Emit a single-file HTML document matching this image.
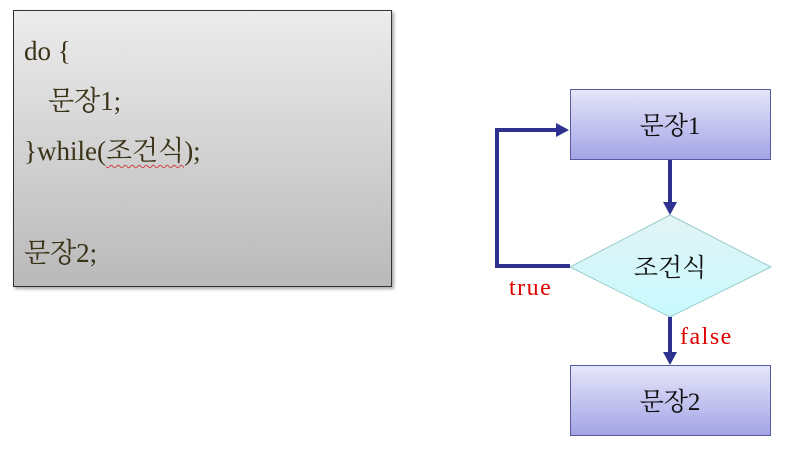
<!DOCTYPE html>
<html><head><meta charset="utf-8"><style>
body{margin:0;width:798px;height:459px;background:#fff;overflow:hidden;position:relative}
.code{position:absolute;left:13px;top:10px;width:377px;height:275px;border:1px solid #333;background:linear-gradient(#ececec,#b9b9b9);box-shadow:2px 2px 3px rgba(0,0,0,.35);font-family:"Liberation Serif","Noto Serif CJK SC",serif;font-size:27px;color:#3a3318}
.code div{position:absolute;white-space:nowrap;line-height:32px}
.sq{text-decoration:underline wavy #d04040;text-decoration-thickness:1px;text-underline-offset:4px}
</style></head><body>
<div class="code">
 <div style="left:10px;top:24px">do {</div>
 <div style="left:34px;top:74px">문장1;</div>
 <div style="left:10px;top:124px">}while(<span class="sq">조건식</span>);</div>
 <div style="left:10px;top:226px">문장2;</div>
</div>
<svg width="798" height="459" style="position:absolute;left:0;top:0">
<defs>
<linearGradient id="bx" x1="0" y1="0" x2="0" y2="1"><stop offset="0" stop-color="#e6e6fa"/><stop offset="1" stop-color="#a3a3e6"/></linearGradient>
<linearGradient id="dm" x1="0" y1="0" x2="0" y2="1"><stop offset="0" stop-color="#e2f3f5"/><stop offset="1" stop-color="#c8fafe"/></linearGradient>
</defs>
<g font-family="Liberation Serif,Noto Serif CJK SC,serif" font-size="25" text-anchor="middle" fill="#111">
<g><rect x="570.5" y="89.5" width="200" height="70" fill="url(#bx)" stroke="#5a5aa0"/><text x="670" y="134">문장1</text></g>
<g><polygon points="670,215 771,267 670,317 570,267" fill="url(#dm)" stroke="#9cc"/><text x="670" y="276">조건식</text></g>
<g><rect x="570.5" y="365.5" width="200" height="70" fill="url(#bx)" stroke="#5a5aa0"/><text x="670" y="410">문장2</text></g>
</g>
<g stroke="#2e3190" stroke-width="4" fill="none">
<path d="M670 160 V204"/>
<path d="M670 317 V354"/>
<path d="M570 266 H497 V130 H558"/>
</g>
<g fill="#2e3190">
<polygon points="663,202 677,202 670,215"/>
<polygon points="663,352 677,352 670,365"/>
<polygon points="556,123 556,137 569,130"/>
</g>
<g font-family="Liberation Serif,Noto Serif CJK SC,serif" font-size="24" fill="#e00000" letter-spacing="1.5">
<text x="509" y="295">true</text>
<text x="680" y="344">false</text>
</g>
</svg>
</body></html>
